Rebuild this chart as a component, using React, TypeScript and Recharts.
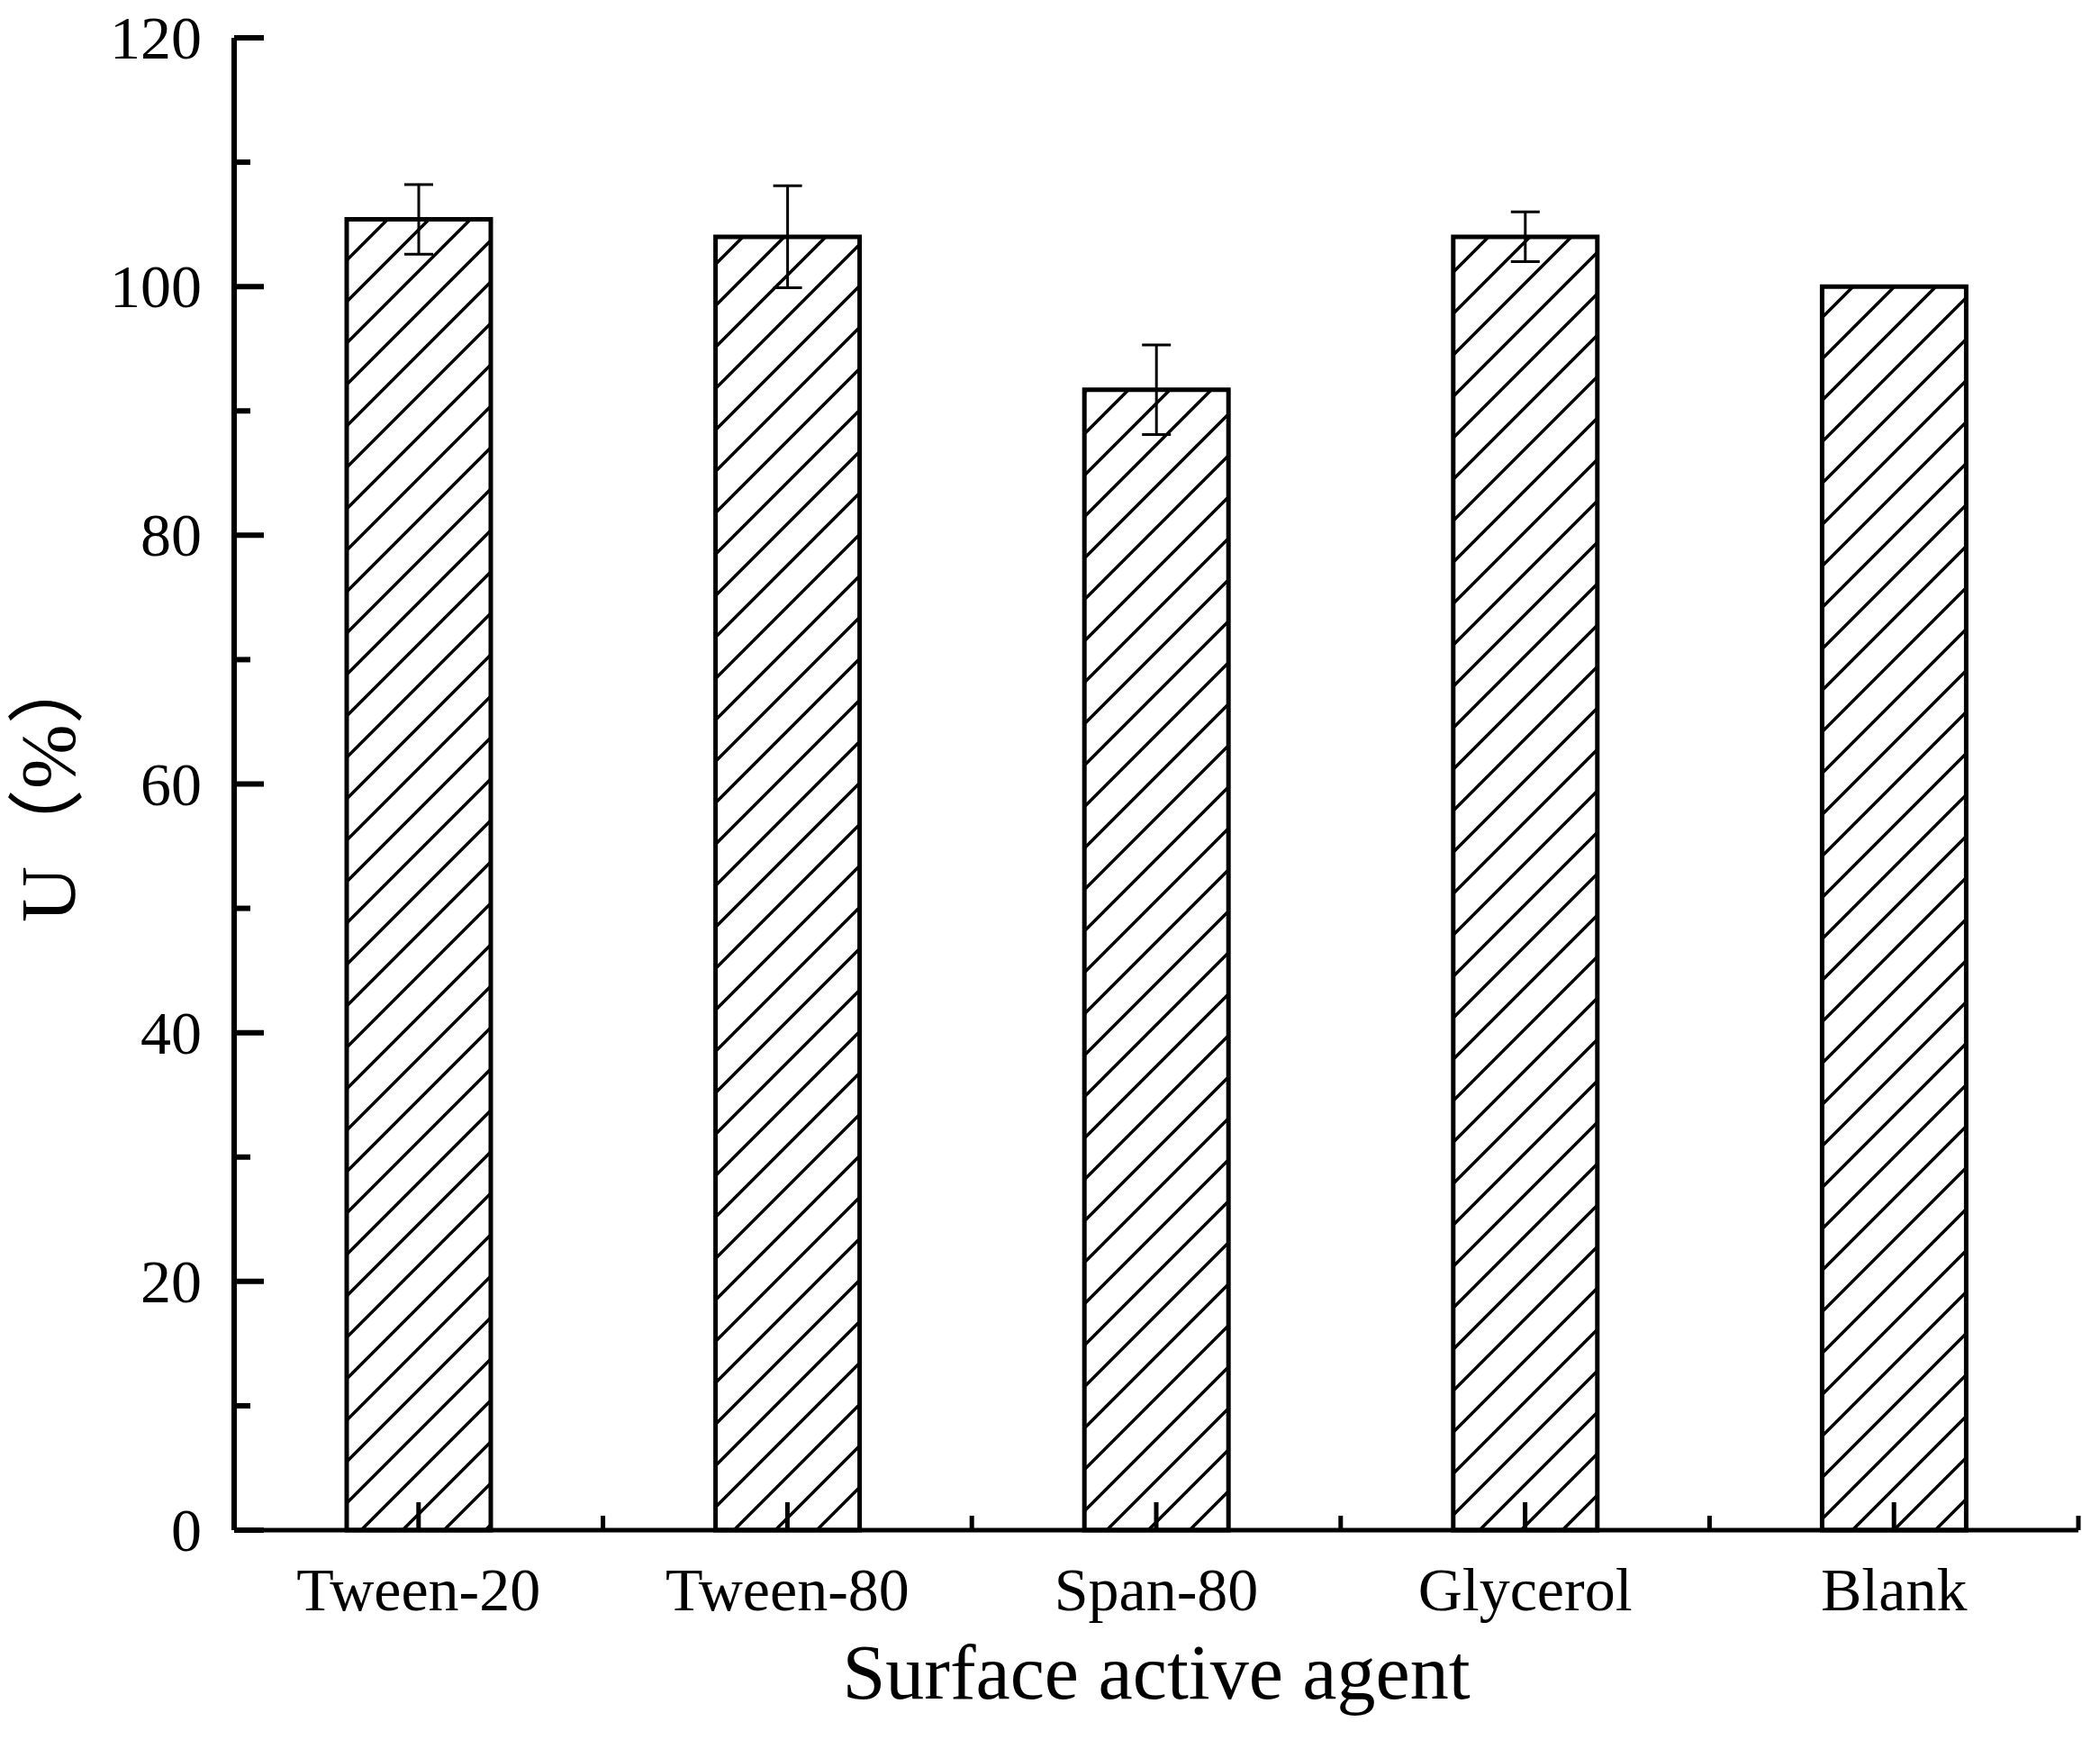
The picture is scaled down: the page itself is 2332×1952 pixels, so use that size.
import React from 'react';
import { BarChart, Bar, XAxis, YAxis, ErrorBar } from 'recharts';

const categories = ['Tween-20', 'Tween-80', 'Span-80', 'Glycerol', 'Blank'];
const uValues = [105.4, 104.0, 91.7, 104.0, 100.0];
const uErrors = [2.8, 4.1, 3.6, 2.0, 0];
const yTicks = [0, 10, 20, 30, 40, 50, 60, 70, 80, 90, 100, 110, 120];
const yLabelTicks = [0, 20, 40, 60, 80, 100, 120];

const data = categories.map((name, i) => ({ name, u: uValues[i], err: uErrors[i] }));

const W = 2332;
const H = 1952;
const M = { top: 42, right: 24, bottom: 0, left: 0 };
const Y_AXIS_W = 260;
const X_AXIS_H = 253;
const PLOT_W = W - M.left - M.right - Y_AXIS_W;
const BAND = PLOT_W / categories.length;
const FONT = '"Liberation Serif", "Times New Roman", serif';

const YTick = (props: any) => {
  const { x, y, payload } = props;
  const major = yLabelTicks.includes(payload.value);
  return (
    <g>
      <line x1={x} x2={x + (major ? 33 : 18)} y1={y} y2={y} stroke="#000" strokeWidth={6} />
      {major && (
        <text x={x - 36} y={y + 23} textAnchor="end" fontFamily={FONT} fontSize={68} fill="#000">
          {payload.value}
        </text>
      )}
    </g>
  );
};

const XTick = (props: any) => {
  const { x, y, payload } = props;
  return (
    <g>
      <line x1={x} x2={x} y1={y} y2={y - 31} stroke="#000" strokeWidth={5} />
      <line x1={x + BAND / 2} x2={x + BAND / 2} y1={y} y2={y - 16} stroke="#000" strokeWidth={5} />
      <text x={x} y={y + 89} textAnchor="middle" fontFamily={FONT} fontSize={68} fill="#000">
        {payload.value}
      </text>
    </g>
  );
};

const YTitle = (props: any) => {
  const tx = 83;
  const ty = 1024;
  return (
    <text
      x={tx}
      y={ty}
      transform={`rotate(-90, ${tx}, ${ty})`}
      textAnchor="start"
      fontFamily={'"Liberation Serif", "Times New Roman", "Noto Sans CJK SC", serif'}
      fontSize={86}
      fill="#000"
    >
      U（%）
    </text>
  );
};

const XTitle = (props: any) => {
  const { viewBox } = props;
  const cx = viewBox.x + viewBox.width / 2;
  return (
    <text x={cx} y={1886} textAnchor="middle" fontFamily={FONT} fontSize={86} fill="#000">
      Surface active agent
    </text>
  );
};

export default function App() {
  return (
    <div style={{ position: 'absolute', left: 0, top: 0, width: W, height: H, background: '#fff' }}>
      <BarChart width={W} height={H} data={data} margin={M}>
        <defs>
          <pattern id="hatch" patternUnits="userSpaceOnUse" x={30} y={0} width={46} height={46}>
            <rect x={0} y={0} width={46} height={46} fill="#fff" />
            <path
              d="M-11.5,11.5 L11.5,-11.5 M0,46 L46,0 M34.5,57.5 L57.5,34.5"
              stroke="#000"
              strokeWidth={3.5}
            />
          </pattern>
        </defs>
        <XAxis
          dataKey="name"
          height={X_AXIS_H}
          tickLine={false}
          tickSize={0}
          tickMargin={0}
          interval={0}
          axisLine={{ stroke: '#000', strokeWidth: 5 }}
          tick={<XTick />}
          label={<XTitle />}
        />
        <YAxis
          width={Y_AXIS_W}
          domain={[0, 120]}
          ticks={yTicks}
          interval={0}
          tickLine={false}
          tickSize={0}
          tickMargin={0}
          axisLine={{ stroke: '#000', strokeWidth: 6 }}
          tick={<YTick />}
          label={<YTitle />}
        />
        <Bar dataKey="u" barSize={160} fill="url(#hatch)" stroke="#000" strokeWidth={5} isAnimationActive={false}>
          <ErrorBar dataKey="err" width={16} strokeWidth={3} stroke="#000" direction="y" isAnimationActive={false} />
        </Bar>
      </BarChart>
    </div>
  );
}
